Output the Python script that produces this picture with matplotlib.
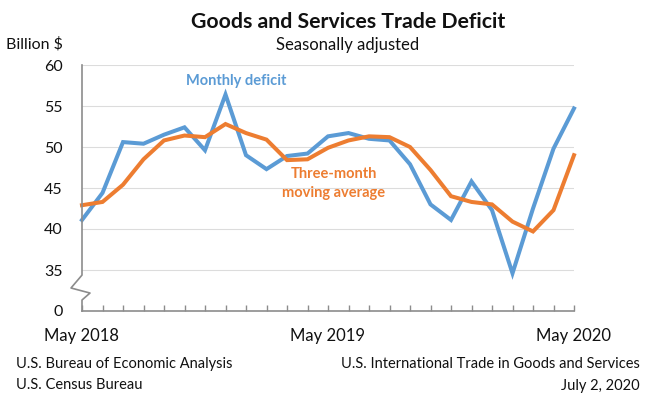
import numpy as np
import matplotlib
matplotlib.use("Agg")
import matplotlib.pyplot as plt

plt.rcParams['font.family'] = ['Lato', 'DejaVu Sans']

# monthly values, May 2018 .. May 2020 (billion $)
months = ['May 2018', 'Jun 2018', 'Jul 2018', 'Aug 2018', 'Sep 2018', 'Oct 2018',
          'Nov 2018', 'Dec 2018', 'Jan 2019', 'Feb 2019', 'Mar 2019', 'Apr 2019',
          'May 2019', 'Jun 2019', 'Jul 2019', 'Aug 2019', 'Sep 2019', 'Oct 2019',
          'Nov 2019', 'Dec 2019', 'Jan 2020', 'Feb 2020', 'Mar 2020', 'Apr 2020',
          'May 2020']
monthly_deficit = [41.1, 44.4, 50.6, 50.4, 51.5, 52.4, 49.6, 56.4, 49.0, 47.3, 48.9, 49.2,
                   51.3, 51.7, 51.0, 50.8, 47.9, 43.0, 41.1, 45.8, 42.3, 34.6, 42.5, 49.8,
                   54.7]
moving_avg = [42.9, 43.3, 45.4, 48.5, 50.8, 51.4, 51.2, 52.8, 51.7, 50.9, 48.4, 48.5,
              49.9, 50.8, 51.3, 51.2, 50.0, 47.2, 44.0, 43.3, 43.0, 40.9, 39.7, 42.3,
              49.0]
ytick_vals = [30, 35, 40, 45, 50, 55, 60]
ytick_labels = ['0', '35', '40', '45', '50', '55', '60']
xlabel_months = ['May 2018', 'May 2019', 'May 2020']

blue = '#5B9BD5'
orange = '#ED7D31'
grey = '#8C8C8C'

fig = plt.figure(figsize=(6.5, 3.97), dpi=100)
ax = fig.add_axes([82/650, 1-311/397, 492/650, 246/397])

x = np.arange(len(months))
ax.plot(x, monthly_deficit, color=blue, linewidth=2.9, solid_joinstyle='miter', clip_on=False, zorder=3)
ax.plot(x, moving_avg, color=orange, linewidth=2.9, solid_joinstyle='miter', clip_on=False, zorder=4)

ax.set_xlim(0, len(months)-1)
ax.set_ylim(30, 60)

ax.set_yticks(ytick_vals)
ax.set_yticklabels(ytick_labels)
for v in ytick_vals[1:]:
    ax.axhline(v, color='#DCDCDC', linewidth=0.8, zorder=1)
ax.tick_params(axis='y', length=0, pad=14, labelsize=11.5, labelcolor='#111111')

ax.set_xticks([months.index(m) for m in xlabel_months])
ax.set_xticklabels(xlabel_months)
ax.set_xticks(x, minor=True)
ax.tick_params(axis='x', which='both', direction='in', length=4, width=1, color=grey,
               pad=12, labelsize=12, labelcolor='#111111')

for s in ['top', 'right', 'left']:
    ax.spines[s].set_visible(False)
ax.spines['bottom'].set_color(grey)
ax.spines['bottom'].set_linewidth(1.2)

# left spine with axis break
bx = [0, 0, -11/492, 8/492, 0, 0]
by = [1, 0.146, 0.0935, 0.073, 0.0447, 0]
ax.plot(bx, by, color=grey, linewidth=1.2, transform=ax.transAxes, clip_on=False, zorder=5)

fig.text(236/650, 1-81/397, 'Monthly deficit', color=blue, fontsize=10.5,
         fontweight='bold', ha='center', va='center')
fig.text(334/650, 1-174/397, 'Three-month', color=orange, fontsize=10.5,
         fontweight='bold', ha='center', va='center')
fig.text(334/650, 1-193/397, 'moving average', color=orange, fontsize=10.5,
         fontweight='bold', ha='center', va='center')

fig.text(348/650, 1-28/397, 'Goods and Services Trade Deficit', fontsize=15.3,
         fontweight='bold', ha='center', va='baseline', color='#111111')
fig.text(348/650, 1-50/397, 'Seasonally adjusted', fontsize=12, ha='center',
         va='baseline', color='#111111')
fig.text(6/650, 1-48/397, 'Billion $', fontsize=11.5, ha='left', va='baseline', color='#111111')

fig.text(16/650, 1-368/397, 'U.S. Bureau of Economic Analysis', fontsize=10.5,
         ha='left', va='baseline', color='#111111')
fig.text(16/650, 1-389/397, 'U.S. Census Bureau', fontsize=10.5,
         ha='left', va='baseline', color='#111111')
fig.text(640/650, 1-368/397, 'U.S. International Trade in Goods and Services', fontsize=10.5,
         ha='right', va='baseline', color='#111111')
fig.text(640/650, 1-390/397, 'July 2, 2020', fontsize=10.5,
         ha='right', va='baseline', color='#111111')

fig.savefig('out.png', dpi=100)
